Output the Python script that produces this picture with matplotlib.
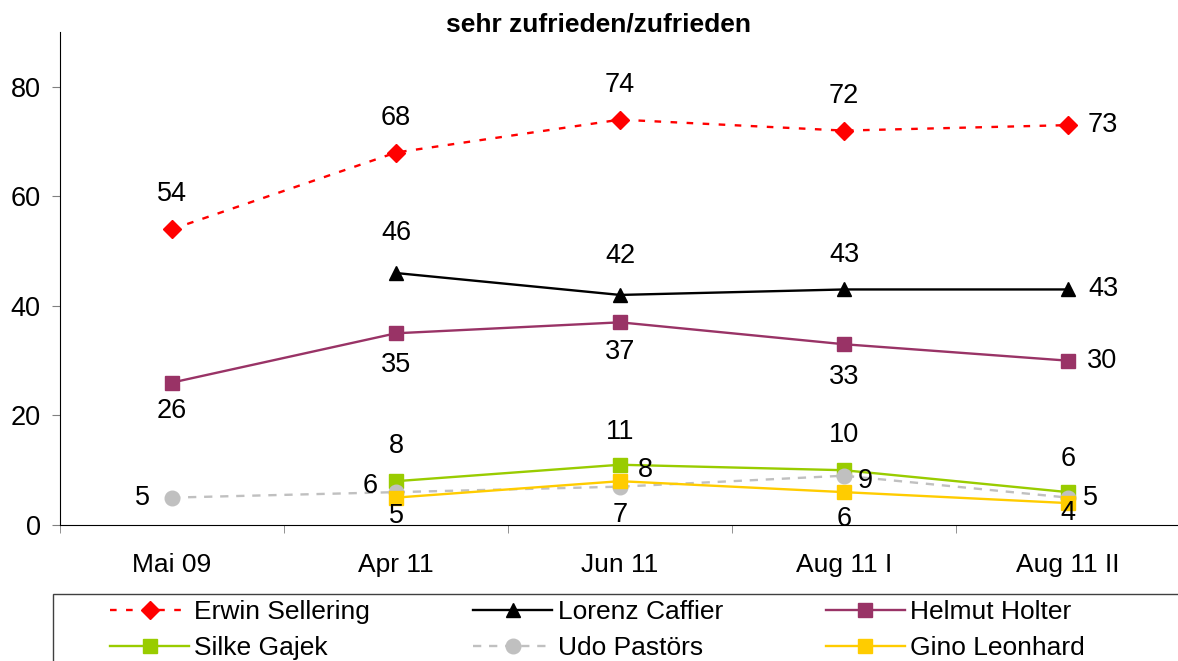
import numpy as np
import matplotlib
matplotlib.use("Agg")
import matplotlib.pyplot as plt
from matplotlib.patches import Rectangle

plt.rcParams['font.family'] = ['Liberation Sans', 'DejaVu Sans']

categories = ['Mai 09', 'Apr 11', 'Jun 11', 'Aug 11 I', 'Aug 11 II']
nan = np.nan

sellering = [54, 68, 74, 72, 73]
caffier = [nan, 46, 42, 43, 43]
holter = [26, 35, 37, 33, 30]
gajek = [nan, 8, 11, 10, 6]
pastoers = [5, 6, 7, 9, 5]
leonhard = [nan, 5, 8, 6, 4]

# label offsets in pixels (dx, dy), dy up; None = no label
series = [
    ('Erwin Sellering', sellering, '#ff0000', (0, (2.8, 4)), 'D', 9,
     [(0, 35), (0, 35), (0, 35), (0, 35), (20, 0)]),
    ('Lorenz Caffier', caffier, '#000000', '-', '^', 10,
     [None, (0, 40), (0, 39), (0, 34), (20, 0)]),
    ('Helmut Holter', holter, '#993366', '-', 's', 10,
     [(0, -28), (0, -32), (0, -30), (0, -33), (19, 0)]),
    ('Silke Gajek', gajek, '#99cc00', '-', 's', 10,
     [None, (0, 35), (0, 33), (0, 35), (0, 33)]),
    ('Udo Pastörs', pastoers, '#c0c0c0', (0, (3.5, 3.3)), 'o', 10.5,
     [(-22, 0), (-18, 6), (0, -28), (14, -5), (15, 0)]),
    ('Gino Leonhard', leonhard, '#ffcc00', '-', 's', 10,
     [None, (0, -18), (18, 11), (0, -27), (0, -10)]),
]

W, H = 1178, 661
fig = plt.figure(figsize=(W / 100, H / 100), dpi=100)
ax = fig.add_axes([60 / W, 1 - 525 / H, 1120 / W, 493 / H])
x = np.arange(len(categories))

handles = {}
for name, vals, color, ls, mk, ms, offs in series:
    line, = ax.plot(x, vals, color=color, linestyle=ls, linewidth=1.7, marker=mk,
                    markersize=ms, markeredgecolor=color, label=name)
    handles[name] = line
    for xi, v, off in zip(x, vals, offs):
        if off is None or np.isnan(v):
            continue
        dx, dy = off
        ha = 'left' if dx > 0 else ('right' if dx < 0 else 'center')
        ax.annotate(str(int(v)), (xi, v), xytext=(dx * 0.72, dy * 0.72),
                    textcoords='offset points', ha=ha, va='center',
                    fontsize=19.5, annotation_clip=False)

ax.set_xlim(-0.5, 4.5)
ax.set_ylim(0, 90)
ax.set_yticks([0, 20, 40, 60, 80])
ax.set_xticks(x)
ax.set_xticklabels(categories, fontsize=19)
ax.set_xticks(np.arange(-0.5, 4.6, 1), minor=True)
ax.tick_params(axis='x', which='major', length=0, pad=20)
ax.tick_params(axis='x', which='minor', length=6, direction='out', color='#808080')
ax.tick_params(axis='y', labelsize=19.5, length=6, pad=8, color='#808080')
ax.spines['top'].set_visible(False)
ax.spines['right'].set_visible(False)

fig.text(599 / W, 1 - 25 / H, 'sehr zufrieden/zufrieden', fontsize=19,
         fontweight='bold', ha='center', va='center')

# legend rows: Erwin, Lorenz, Helmut / Silke, Udo, Gino (filled column-wise)
order = ['Erwin Sellering', 'Silke Gajek', 'Lorenz Caffier', 'Udo Pastörs',
         'Helmut Holter', 'Gino Leonhard']
fig.legend([handles[n] for n in order], order, loc='upper left',
           bbox_to_anchor=(110 / W, 1 - 600 / H), ncol=3, fontsize=19,
           frameon=False, handlelength=3.0, handletextpad=0.2,
           columnspacing=3.9, borderpad=0, borderaxespad=0, labelspacing=0.45)
fig.patches.append(Rectangle((53 / W, -0.05), 1.1, 1 - 594 / H + 0.05,
                             transform=fig.transFigure, fill=False,
                             edgecolor='#404040', linewidth=1.0))

fig.savefig('out.png', dpi=100)
